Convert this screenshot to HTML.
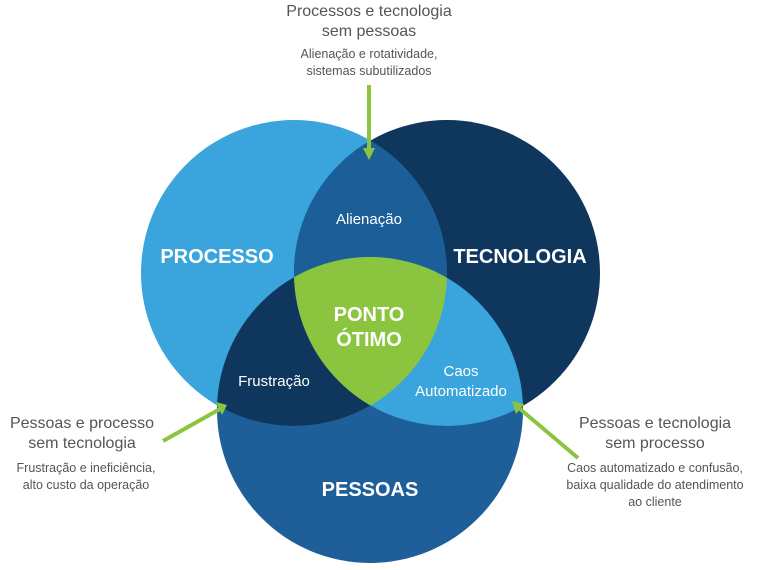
<!DOCTYPE html>
<html><head><meta charset="utf-8"><style>
body{margin:0;background:#fff;width:768px;height:565px;overflow:hidden}
text{font-family:"Liberation Sans",sans-serif}
</style></head><body>
<svg width="768" height="565" viewBox="0 0 768 565">
<defs>
<clipPath id="cP"><circle cx="294" cy="273" r="153"/></clipPath>
<clipPath id="cT"><circle cx="447" cy="273" r="153"/></clipPath>
<clipPath id="cS"><circle cx="370" cy="410" r="153"/></clipPath>
</defs>
<circle cx="370" cy="410" r="153" fill="#1e5f99"/>
<circle cx="294" cy="273" r="153" fill="#39a5dc"/>
<circle cx="447" cy="273" r="153" fill="#0f375e"/>
<circle cx="447" cy="273" r="153" fill="#1c5e97" clip-path="url(#cP)"/>
<circle cx="370" cy="410" r="153" fill="#0f375e" clip-path="url(#cP)"/>
<circle cx="370" cy="410" r="153" fill="#39a5dc" clip-path="url(#cT)"/>
<g clip-path="url(#cP)"><circle cx="370" cy="410" r="153" fill="#8bc43f" clip-path="url(#cT)"/></g>
<g fill="#fff" text-anchor="middle">
<text x="217" y="263" font-size="20" font-weight="bold">PROCESSO</text>
<text x="520" y="263" font-size="20" font-weight="bold">TECNOLOGIA</text>
<text x="370" y="496" font-size="20" font-weight="bold">PESSOAS</text>
<text x="369" y="321" font-size="20" font-weight="bold">PONTO</text>
<text x="369" y="346" font-size="20" font-weight="bold">ÓTIMO</text>
<text x="369" y="224" font-size="15">Alienação</text>
<text x="274" y="386" font-size="15">Frustração</text>
<text x="461" y="376" font-size="15">Caos</text>
<text x="461" y="396" font-size="15">Automatizado</text>
</g>
<g stroke="#8bc43f" stroke-width="4" fill="#8bc43f">
<line x1="369" y1="85" x2="369" y2="150"/>
<line x1="163" y1="441" x2="220" y2="409"/>
<line x1="578" y1="458" x2="520" y2="409"/>
</g>
<g fill="#8bc43f">
<polygon points="363,148 375,148 369,160"/>
<polygon points="216,402 227,405 222,415"/>
<polygon points="516,414 524,404 512,401"/>
</g>
<g fill="#555" text-anchor="middle">
<text x="369" y="16" font-size="16">Processos e tecnologia</text>
<text x="369" y="36" font-size="16">sem pessoas</text>
<text x="369" y="58" font-size="12.5">Alienação e rotatividade,</text>
<text x="369" y="75" font-size="12.5">sistemas subutilizados</text>
<text x="82" y="428" font-size="16">Pessoas e processo</text>
<text x="82" y="448" font-size="16">sem tecnologia</text>
<text x="86" y="472" font-size="12.5">Frustração e ineficiência,</text>
<text x="86" y="489" font-size="12.5">alto custo da operação</text>
<text x="655" y="428" font-size="16">Pessoas e tecnologia</text>
<text x="655" y="448" font-size="16">sem processo</text>
<text x="655" y="472" font-size="12.5">Caos automatizado e confusão,</text>
<text x="655" y="489" font-size="12.5">baixa qualidade do atendimento</text>
<text x="655" y="506" font-size="12.5">ao cliente</text>
</g>
</svg>
</body></html>
